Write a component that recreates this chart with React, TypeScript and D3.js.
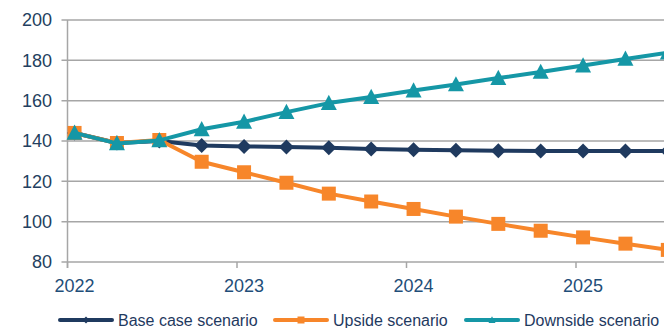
import React, { useEffect, useRef } from "react";
import * as d3 from "d3";

// Quarterly observation months (months since Jan 2022)
const periods: string[] = [
  "2022-01", "2022-04", "2022-07", "2022-10",
  "2023-01", "2023-04", "2023-07", "2023-10",
  "2024-01", "2024-04", "2024-07", "2024-10",
  "2025-01", "2025-04", "2025-07",
];
const baseCase: number[] = [144, 139, 140, 137.8, 137.3, 137.0, 136.6, 136.0, 135.6, 135.4, 135.2, 135.1, 135.0, 135.0, 135.0];
const upside: number[] = [144, 139, 140.5, 129.7, 124.5, 119.3, 113.9, 110.0, 106.3, 102.5, 98.9, 95.5, 92.2, 89.1, 86.0];
const downside: number[] = [144, 138.8, 140.3, 145.8, 149.5, 154.3, 158.8, 161.8, 165.0, 168.0, 171.2, 174.2, 177.4, 180.7, 183.8];
const yTicks: number[] = [80, 100, 120, 140, 160, 180, 200];
const yearLabels: string[] = ["2022", "2023", "2024", "2025"];
const seriesNames: string[] = ["Base case scenario", "Upside scenario", "Downside scenario"];
const seriesColors: string[] = ["#1F3A5F", "#F7862A", "#1597A6"];
const seriesMarkers: string[] = ["diamond", "square", "triangle"];

const W = 664;
const H = 328;

function monthIndex(p: string): number {
  const [y, m] = p.split("-").map(Number);
  return (y - 2022) * 12 + (m - 1);
}

export default function App() {
  const ref = useRef<SVGSVGElement>(null);

  useEffect(() => {
    const svg = d3.select(ref.current);
    svg.selectAll("*").remove();

    const font = "'Liberation Sans', Arial, sans-serif";
    const x = d3.scaleLinear().domain([0, 36]).range([67.5, 576]);
    const y = d3.scaleLinear().domain([80, 200]).range([262, 20]);
    const gridColor = "#A6A6A6";

    // gridlines
    svg.append("g")
      .selectAll("line")
      .data(yTicks)
      .join("line")
      .attr("x1", x(0) - 6)
      .attr("x2", W)
      .attr("y1", (d) => y(d))
      .attr("y2", (d) => y(d))
      .attr("stroke", gridColor)
      .attr("stroke-width", 1.5);

    // y axis line
    svg.append("line")
      .attr("x1", x(0)).attr("x2", x(0))
      .attr("y1", y(200)).attr("y2", y(80) + 6)
      .attr("stroke", gridColor).attr("stroke-width", 1.5);

    // x tick marks
    const yearTicks = yearLabels.map((_, i) => i * 12);
    svg.append("g")
      .selectAll("line")
      .data(yearTicks.concat([48]))
      .join("line")
      .attr("x1", (d) => x(d)).attr("x2", (d) => x(d))
      .attr("y1", y(80)).attr("y2", y(80) + 6)
      .attr("stroke", gridColor).attr("stroke-width", 1.5);

    // y labels
    svg.append("g")
      .selectAll("text")
      .data(yTicks)
      .join("text")
      .attr("x", 52)
      .attr("y", (d) => y(d))
      .attr("dy", "0.36em")
      .attr("text-anchor", "end")
      .attr("font-family", font)
      .attr("font-size", 18)
      .attr("fill", "#243F60")
      .text((d) => String(d));

    // x labels (centered in the January interval)
    svg.append("g")
      .selectAll("text")
      .data(yearLabels)
      .join("text")
      .attr("x", (_, i) => x(i * 12 + 0.5))
      .attr("y", 291.5)
      .attr("text-anchor", "middle")
      .attr("font-family", font)
      .attr("font-size", 18)
      .attr("fill", "#1F4E79")
      .text((d) => d);

    const allSeries = [baseCase, upside, downside];
    const markerPath = (kind: string, s: number) => {
      if (kind === "diamond") {
        return `M0,${-s}L${s},0L0,${s}L${-s},0Z`;
      } else if (kind === "square") {
        return `M${-s},${-s}L${s},${-s}L${s},${s}L${-s},${s}Z`;
      }
      const h = s * 1.9;
      return `M0,${-h * 0.55}L${s},${h * 0.45}L${-s},${h * 0.45}Z`;
    };
    const markerSize = [7.5, 7, 8];

    allSeries.forEach((vals, si) => {
      const pts = periods.map((p, i) => [x(monthIndex(p) + 0.5), y(vals[i])] as [number, number]);
      svg.append("path")
        .attr("d", d3.line()(pts))
        .attr("fill", "none")
        .attr("stroke", seriesColors[si])
        .attr("stroke-width", 4)
        .attr("stroke-linejoin", "round");
      svg.append("g")
        .selectAll("path")
        .data(pts)
        .join("path")
        .attr("transform", (d) => `translate(${d[0]},${d[1]})`)
        .attr("d", markerPath(seriesMarkers[si], markerSize[si]))
        .attr("fill", seriesColors[si]);
    });

    // legend
    const legendX = [60, 275, 466];
    const ly = 320;
    seriesNames.forEach((name, i) => {
      const g = svg.append("g");
      g.append("line")
        .attr("x1", legendX[i]).attr("x2", legendX[i] + 52)
        .attr("y1", ly).attr("y2", ly)
        .attr("stroke", seriesColors[i])
        .attr("stroke-width", 4)
        .attr("stroke-linecap", "round");
      g.append("path")
        .attr("transform", `translate(${legendX[i] + 26},${ly})`)
        .attr("d", markerPath(seriesMarkers[i], 3.5))
        .attr("fill", seriesColors[i]);
      g.append("text")
        .attr("x", legendX[i] + 58)
        .attr("y", ly)
        .attr("dy", "0.36em")
        .attr("font-family", font)
        .attr("font-size", 16)
        .attr("fill", "#1F3A5F")
        .text(name);
    });
  }, []);

  return (
    <svg
      ref={ref}
      width={W}
      height={H}
      style={{ position: "absolute", left: 0, top: 0, background: "#fff" }}
    />
  );
}
